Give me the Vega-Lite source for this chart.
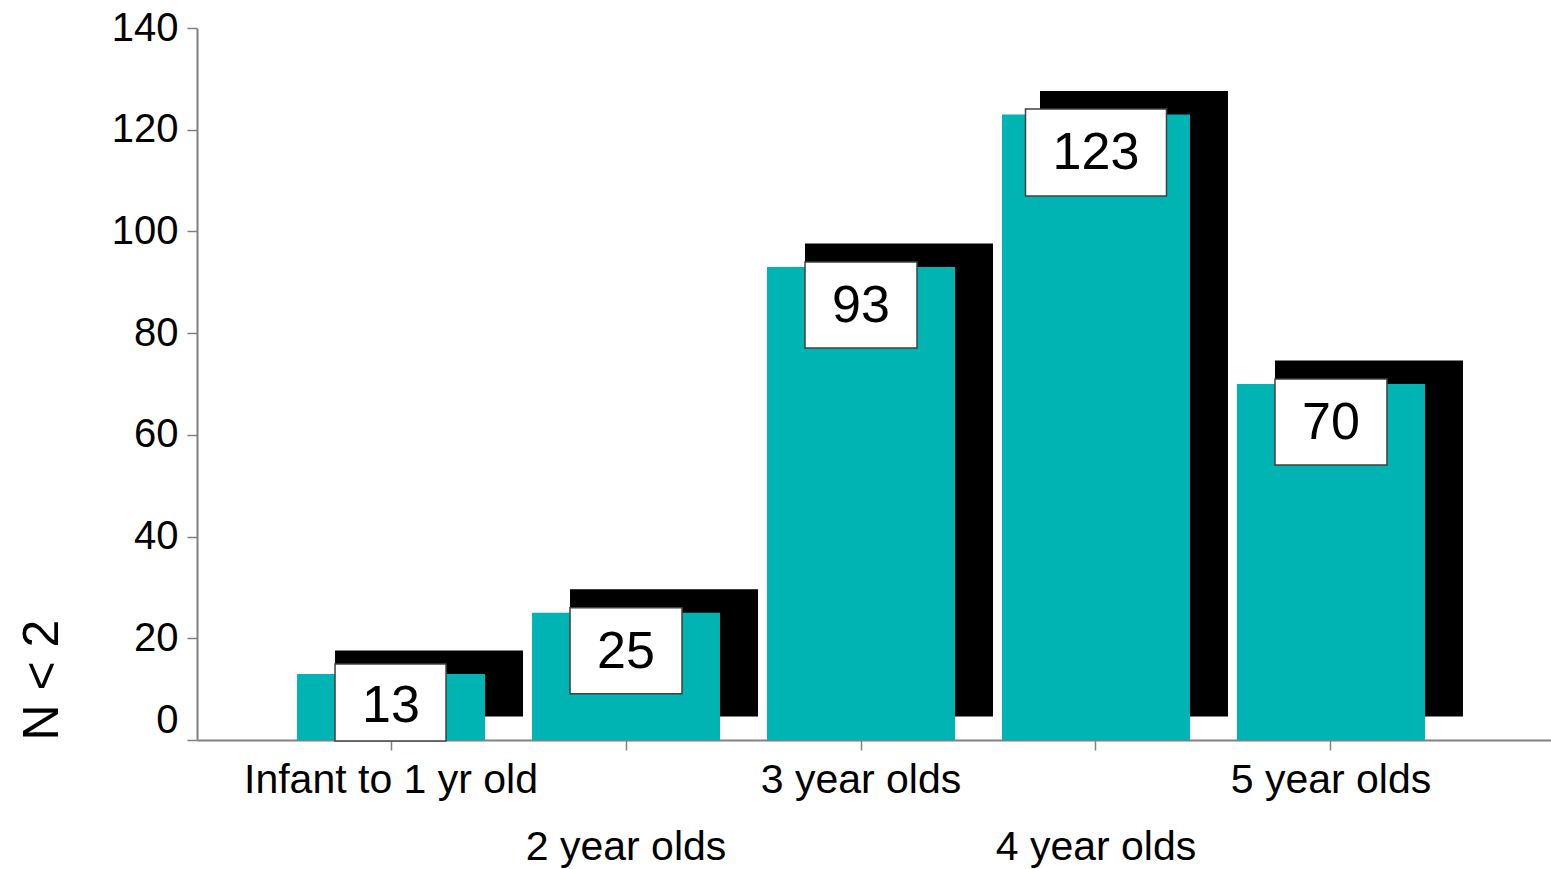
{
  "$schema": "https://vega.github.io/schema/vega-lite/v6.json",
  "width": 1354,
  "height": 712,
  "autosize": "none",
  "padding": {"left": 197, "top": 28, "right": 0, "bottom": 129},
  "background": "white",
  "config": {"view": {"stroke": null}, "font": "Liberation Sans"},
  "data": {
    "values": [
      {"age": "Infant to 1 yr old", "n": 13},
      {"age": "2 year olds", "n": 25},
      {"age": "3 year olds", "n": 93},
      {"age": "4 year olds", "n": 123},
      {"age": "5 year olds", "n": 70}
    ]
  },
  "encoding": {
    "x": {
      "field": "age",
      "type": "nominal",
      "sort": null,
      "scale": {"paddingInner": 0.2, "paddingOuter": 0.481, "align": 0.4425},
      "axis": {
        "title": null,
        "labelFontSize": 41,
        "labelColor": "black",
        "labelPadding": 10,
        "labelLimit": 0,
        "tickSize": 10,
        "tickWidth": 1.5,
        "tickColor": "#808080",
        "domainColor": "#808080",
        "domainWidth": 2,
        "labelAngle": 0,
        "labelOverlap": false,
        "labelBound": false,
        "labelFlush": false,
        "labelLineHeight": 67,
        "labelBaseline": "top",
        "labelExpr": "indexof(['2 year olds','4 year olds'], datum.value) >= 0 ? ['', datum.value] : datum.value"
      }
    },
    "y": {
      "field": "n",
      "type": "quantitative",
      "scale": {"domain": [0, 140], "nice": false},
      "axis": {
        "values": [0, 20, 40, 60, 80, 100, 120, 140],
        "title": "N < 2",
        "titleFontSize": 50,
        "titleFontWeight": "normal",
        "titleColor": "black",
        "titleAnchor": "start",
        "titlePadding": 44,
        "labelFontSize": 40,
        "labelColor": "black",
        "labelPadding": 9,
        "tickSize": 10,
        "tickWidth": 1.5,
        "tickColor": "#808080",
        "domainColor": "#808080",
        "domainWidth": 2,
        "grid": false,
        "labelBaseline": {"condition": {"test": "datum.value == 0", "value": "bottom"}, "value": "middle"}
      }
    }
  },
  "layer": [
    {
      "mark": {"type": "bar", "color": "black", "xOffset": 38, "x2Offset": 38, "yOffset": -23.5, "y2Offset": -23.5}
    },
    {
      "mark": {"type": "bar", "color": "#00B4B4"}
    },
    {
      "mark": {"type": "point", "filled": true, "fill": "white", "stroke": "#404040", "strokeWidth": 1.5, "opacity": 1, "size": 4},
      "encoding": {
        "shape": {
          "condition": [
            {"test": "datum.n < 20", "value": "M-56,-10H55V67H-56Z"},
            {"test": "datum.n >= 100", "value": "M-70.5,-5.5H70.5V81.5H-70.5Z"}
          ],
          "value": "M-56,-5H56V81H-56Z"
        }
      }
    },
    {
      "transform": [{"filter": "datum.n >= 20"}],
      "mark": {"type": "text", "fontSize": 52, "color": "black", "baseline": "middle", "align": "center", "dy": 39},
      "encoding": {"text": {"field": "n", "type": "quantitative"}}
    },
    {
      "transform": [{"filter": "datum.n < 20"}],
      "mark": {"type": "text", "fontSize": 52, "color": "black", "baseline": "middle", "align": "center", "dy": 32},
      "encoding": {"text": {"field": "n", "type": "quantitative"}}
    }
  ]
}
